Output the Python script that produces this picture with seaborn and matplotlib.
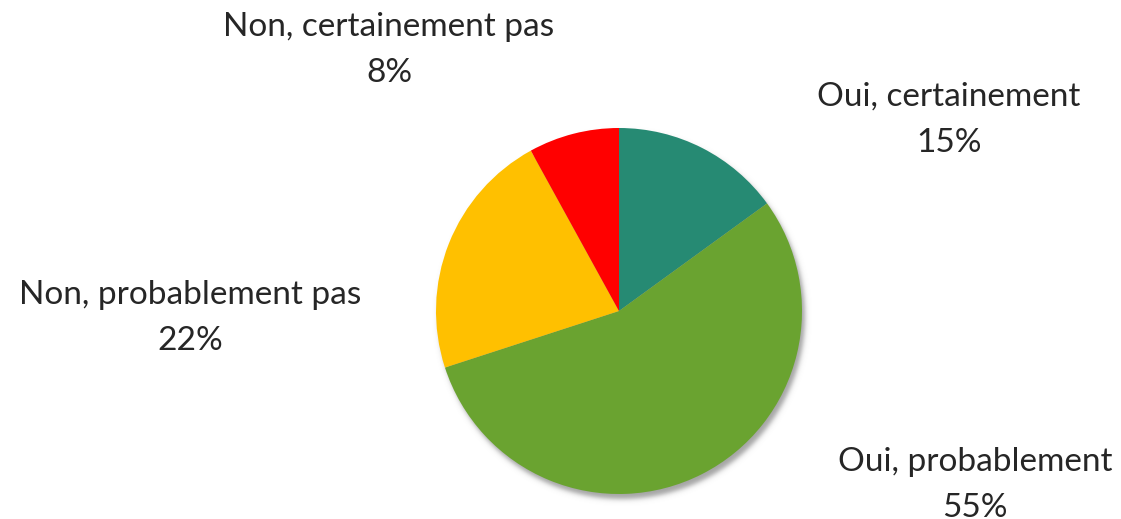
import numpy as np
import matplotlib
matplotlib.use("Agg")
import matplotlib.pyplot as plt
import seaborn as sns

# Survey answers and their shares (%)
categories = ["Oui, certainement", "Oui, probablement", "Non, probablement pas", "Non, certainement pas"]
shares = [15, 55, 22, 8]
colors = ["#268A73", "#6AA330", "#FFC000", "#FF0000"]

sns.set_theme(style="white")
plt.rcParams["font.family"] = ["Lato", "DejaVu Sans"]

W, H = 1121, 519
fig = plt.figure(figsize=(W / 100, H / 100), dpi=100)
ax = fig.add_axes([0, 0, 1, 1])
ax.set_xlim(0, W)
ax.set_ylim(0, H)
ax.axis("off")

cx, cy, R = 619, H - 311, 183

# soft drop shadow beneath the pie
yy, xx = np.mgrid[0:H, 0:W]
d = np.hypot(xx + 0.5 - (cx + 3), (H - yy - 0.5) - (cy - 5))
alpha = 0.55 * 0.5 * (1 - np.tanh((d - R) / 3.0))
shadow = np.zeros((H, W, 4))
shadow[..., :3] = 0.35
shadow[..., 3] = alpha
ax.imshow(shadow, extent=(0, W, 0, H), origin="upper", zorder=0, interpolation="bilinear")

ax.pie(shares, colors=colors, startangle=90, counterclock=False,
       center=(cx, cy), radius=R, wedgeprops=dict(linewidth=0), frame=True)
ax.set_xlim(0, W)
ax.set_ylim(0, H)
ax.set_aspect("equal")
ax.axis("off")

label_pos = [(949, 120), (975, 485), (190, 318), (389, 50)]
for name, val, (x, y) in zip(categories, shares, label_pos):
    ax.text(x, H - y, f"{name}\n{val}%", ha="center", va="center",
            fontsize=24, fontweight="normal", color="#262626", linespacing=1.7)

fig.savefig("out.png", dpi=100, facecolor="white")
